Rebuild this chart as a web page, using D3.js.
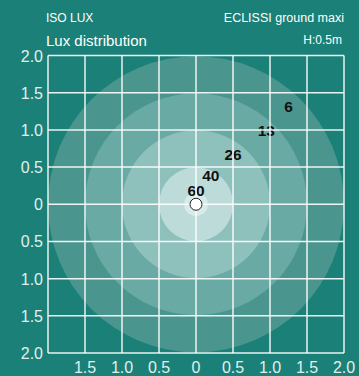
<!DOCTYPE html>
<html><head><meta charset="utf-8">
<script src="https://cdn.jsdelivr.net/npm/d3@7"></script>
<style>
html,body{margin:0;padding:0;background:#1b8077;}
svg{display:block;font-family:"Liberation Sans",Arial,sans-serif;}
</style></head>
<body><svg id="c" width="359" height="376"></svg>
<script>
const xTicks = [-2, -1.5, -1, -0.5, 0, 0.5, 1, 1.5, 2];
const yTicks = [2, 1.5, 1, 0.5, 0, -0.5, -1, -1.5, -2];
const ringRadii = [2.0, 1.5, 1.0, 0.5, 0.16];
const luxLabels = ["60", "40", "26", "13", "6"];
const luxX = [0.0, 0.2, 0.5, 0.95, 1.25];
const luxY = [0.19, 0.39, 0.67, 0.99, 1.31];

const svg = d3.select("#c");
const x = d3.scaleLinear().domain([-2, 2]).range([48, 344]);
const y = d3.scaleLinear().domain([2, -2]).range([55.5, 353]);
const rPx = v => x(v) - x(0);
const ringColor = d3.scaleOrdinal().domain(ringRadii)
  .range(["#4b958f", "#6aaaa5", "#8ec0bc", "#bddcd9", "#d6ecea"]);

svg.append("rect").attr("width", 359).attr("height", 376).attr("fill", "#1b8077");

svg.append("clipPath").attr("id", "pc").append("rect")
  .attr("x", x(-2)).attr("y", y(2)).attr("width", x(2) - x(-2)).attr("height", y(-2) - y(2));

const g = svg.append("g").attr("clip-path", "url(#pc)");
g.selectAll("circle.ring").data(ringRadii).join("circle")
  .attr("class", "ring")
  .attr("cx", x(0)).attr("cy", y(0))
  .attr("r", d => rPx(d))
  .attr("fill", d => ringColor(d));

// lux labels
svg.append("g").selectAll("text").data(luxLabels).join("text")
  .attr("x", (d, i) => x(luxX[i])).attr("y", (d, i) => y(luxY[i]) + 5.5)
  .attr("text-anchor", "middle").attr("font-size", 15.5).attr("font-weight", "bold").attr("fill", "#111")
  .text(d => d);

// grid
const grid = svg.append("g").attr("stroke", "#ffffff").attr("stroke-width", 1.5).attr("stroke-opacity", 0.9);
grid.selectAll("line.v").data(xTicks).join("line").attr("class", "v")
  .attr("x1", d => x(d)).attr("x2", d => x(d)).attr("y1", y(2)).attr("y2", y(-2));
grid.selectAll("line.h").data(yTicks).join("line").attr("class", "h")
  .attr("y1", d => y(d)).attr("y2", d => y(d)).attr("x1", x(-2)).attr("x2", x(2));

const fmt = v => v === 0 ? "0" : d3.format(".1f")(Math.abs(v));

// y labels
svg.append("g").selectAll("text").data(yTicks).join("text")
  .attr("x", 43).attr("y", d => y(d) + 6)
  .attr("text-anchor", "end").attr("font-size", 16).attr("fill", "#e0f0ee")
  .text(fmt);

// x labels
svg.append("g").selectAll("text").data(xTicks.slice(1)).join("text")
  .attr("x", d => x(d)).attr("y", 373)
  .attr("text-anchor", "middle").attr("font-size", 16).attr("fill", "#e0f0ee")
  .text(fmt);

// center point
svg.append("circle").attr("cx", x(0)).attr("cy", y(0)).attr("r", 6)
  .attr("fill", "#ffffff").attr("stroke", "#222").attr("stroke-width", 1);

// titles
svg.append("text").attr("x", 46).attr("y", 22).attr("font-size", 12).attr("fill", "#ffffff").text("ISO LUX");
svg.append("text").attr("x", 46).attr("y", 46).attr("font-size", 15).attr("fill", "#ffffff").text("Lux distribution");
svg.append("text").attr("x", 344).attr("y", 22).attr("text-anchor", "end").attr("font-size", 12.5).attr("fill", "#ffffff").text("ECLISSI ground maxi");
svg.append("text").attr("x", 342).attr("y", 44).attr("text-anchor", "end").attr("font-size", 12).attr("fill", "#ffffff").text("H:0.5m");
</script></body></html>
